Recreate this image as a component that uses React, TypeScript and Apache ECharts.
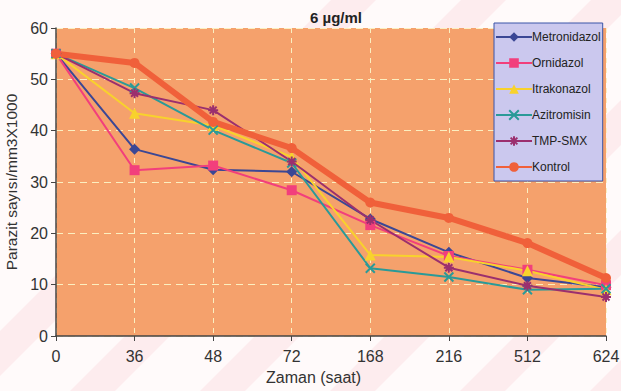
import React, { useEffect, useRef } from "react";
import * as echarts from "echarts";

const categories = ["0", "36", "48", "72", "168", "216", "512", "624"];
const metronidazol = [55, 36.4, 32.4, 32.0, 22.8, 16.3, 11.3, 9.5];
const ornidazol = [55, 32.3, 33.2, 28.4, 21.6, 15.6, 12.9, 9.9];
const itrakonazol = [55, 43.4, 41.0, 34.9, 15.8, 15.4, 12.7, 9.0];
const azitromisin = [55, 48.3, 40.1, 33.7, 13.2, 11.5, 9.0, 9.2];
const tmpSmx = [55, 47.3, 44.0, 34.0, 22.6, 13.3, 9.8, 7.6];
const kontrol = [55, 53.2, 41.7, 36.6, 26.0, 23.0, 18.1, 11.3];

const FONT = "Liberation Sans, Arial, sans-serif";

const xSym = "path://M0,0L10,10M10,0L0,10";
const starSym = "path://M5,0L5,10M0,5L10,5M1.5,1.5L8.5,8.5M8.5,1.5L1.5,8.5";

const stripeStarts = [-60, 70, 200, 330, 460, 590];

export default function App() {
  const ref = useRef<HTMLDivElement>(null);
  useEffect(() => {
    const chart = echarts.init(ref.current!, null, { renderer: "svg" });
    const mk = (name: string, data: number[], color: string, symbol: string, size: number, width: number, stroke = false) => ({
      name,
      type: "line",
      data,
      symbol,
      symbolSize: size,
      lineStyle: { color, width },
      itemStyle: stroke
        ? { color: "rgba(0,0,0,0)", borderColor: color, borderWidth: 2 }
        : { color, borderColor: color, borderWidth: 0 },
      emphasis: { disabled: true },
      z: 3,
    });
    const stripes = stripeStarts.map((s) => ({
      type: "polygon",
      z: -1,
      silent: true,
      shape: {
        points: [
          [s, 391],
          [s + 45, 391],
          [s + 45 + 391, 0],
          [s + 391, 0],
        ],
      },
      style: { fill: "rgba(238,120,140,0.10)" },
    }));
    chart.setOption({
      animation: false,
      backgroundColor: "#fffafa",
      title: {
        text: "6 µg/ml",
        left: 331,
        top: 5,
        textAlign: "center",
        textStyle: { fontFamily: FONT, fontSize: 15, fontWeight: "bold", color: "#222" },
      },
      grid: {
        left: 56,
        right: 15,
        top: 28,
        bottom: 55,
        show: true,
        backgroundColor: "#f5a16c",
        borderWidth: 0,
        containLabel: false,
        outerBoundsMode: "none",
      },
      legend: {
        orient: "vertical",
        left: 494,
        top: 23,
        width: 110,
        backgroundColor: "#cbc8ee",
        borderColor: "#3a55a8",
        borderWidth: 1,
        padding: [8, 2, 8, 1],
        itemWidth: 36,
        itemHeight: 12,
        itemGap: 14,
        textStyle: { fontFamily: FONT, fontSize: 12, color: "#222", padding: [0, 0, 0, -5] },
        data: ["Metronidazol", "Ornidazol", "Itrakonazol", "Azitromisin", "TMP-SMX", "Kontrol"],
      },
      graphic: [
        ...stripes,
        {
          type: "text",
          left: 266,
          top: 369,
          style: { text: "Zaman (saat)", font: "16px " + FONT, fill: "#333" },
        },
      ],
      xAxis: {
        type: "category",
        data: categories,
        boundaryGap: false,
        axisLine: { show: true, lineStyle: { color: "#444", width: 1.5 } },
        axisTick: { show: true, alignWithLabel: true, length: 5, lineStyle: { color: "#444" } },
        axisLabel: { fontFamily: FONT, fontSize: 16, color: "#333", margin: 12 },
        splitLine: { show: true, lineStyle: { color: "#fbefc0", type: [5, 5], width: 1 } },
      },
      yAxis: {
        type: "value",
        min: 0,
        max: 60,
        interval: 10,
        name: "Parazit sayısı/mm3X1000",
        nameLocation: "middle",
        nameGap: 34,
        nameTextStyle: { fontFamily: FONT, fontSize: 15.5, color: "#333" },
        axisLine: { show: true, lineStyle: { color: "#444", width: 1.5 } },
        axisTick: { show: true, length: 5, lineStyle: { color: "#444" } },
        axisLabel: { fontFamily: FONT, fontSize: 16, color: "#333", margin: 8 },
        splitLine: { show: true, lineStyle: { color: "#fbefc0", type: [7, 5], width: 1 } },
      },
      series: [
        mk("Metronidazol", metronidazol, "#3b4795", "diamond", 11, 2),
        mk("Ornidazol", ornidazol, "#f23f7c", "rect", 10, 2),
        mk("Itrakonazol", itrakonazol, "#f8d22c", "triangle", 11, 2),
        mk("Azitromisin", azitromisin, "#2a9a98", xSym, 9, 2, true),
        mk("TMP-SMX", tmpSmx, "#9b2f6e", starSym, 10, 2, true),
        mk("Kontrol", kontrol, "#f0603a", "circle", 10, 6),
      ],
    });
    return () => chart.dispose();
  }, []);
  return (
    <div
      ref={ref}
      style={{ position: "fixed", left: 0, top: 0, width: 621, height: 391 }}
    />
  );
}
